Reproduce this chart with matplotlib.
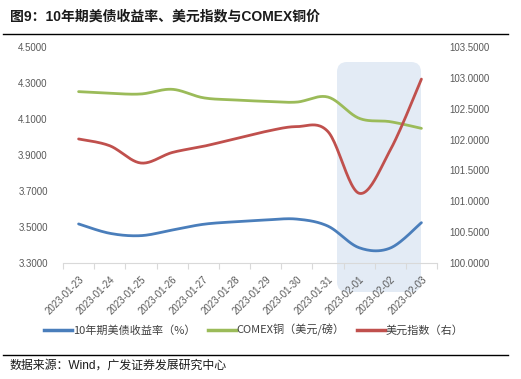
import numpy as np
import matplotlib
matplotlib.use("Agg")
import matplotlib.pyplot as plt
from matplotlib.patches import FancyBboxPatch
from matplotlib.transforms import IdentityTransform
from matplotlib.lines import Line2D

plt.rcParams['font.family'] = ['Liberation Sans', 'Noto Sans CJK SC', 'DejaVu Sans']

dates = ["2023-01-23", "2023-01-24", "2023-01-25", "2023-01-26", "2023-01-27", "2023-01-28",
         "2023-01-29", "2023-01-30", "2023-01-31", "2023-02-01", "2023-02-02", "2023-02-03"]
yield_10y = [3.517, 3.465, 3.452, 3.483, 3.515, 3.529, 3.539, 3.544, 3.505, 3.385, 3.383, 3.524]
copper = [4.252, 4.243, 4.239, 4.265, 4.218, 4.206, 4.198, 4.194, 4.222, 4.104, 4.085, 4.048]
usd_index = [102.01, 101.90, 101.62, 101.79, 101.89, 102.01, 102.13, 102.21, 102.13, 101.13, 101.83, 102.98]

left_ticks = [3.3, 3.5, 3.7, 3.9, 4.1, 4.3, 4.5]
right_ticks = [100.0, 100.5, 101.0, 101.5, 102.0, 102.5, 103.0, 103.5]

title = "图9：10年期美债收益率、美元指数与COMEX铜价"
source = "数据来源：Wind，广发证券发展研究中心"
labels = ["10年期美债收益率（%）", "COMEX铜（美元/磅）", "美元指数（右）"]
colors = ["#4a7ebb", "#9bbb59", "#c0504d"]


def smooth(y, n=24):
    y = np.asarray(y, float)
    x = np.arange(len(y), dtype=float)
    P = np.vstack([x, y]).T
    P = np.vstack([P[0], P, P[-1]])
    out = []
    for i in range(1, len(P) - 2):
        p0, p1, p2, p3 = P[i - 1], P[i], P[i + 1], P[i + 2]
        t = np.linspace(0, 1, n, endpoint=False)[:, None]
        c = 0.5 * ((2 * p1) + (-p0 + p2) * t + (2 * p0 - 5 * p1 + 4 * p2 - p3) * t ** 2
                   + (-p0 + 3 * p1 - 3 * p2 + p3) * t ** 3)
        out.append(c)
    out.append(P[-2][None, :])
    out = np.vstack(out)
    return out[:, 0], out[:, 1]


W, H = 521, 379
fig = plt.figure(figsize=(W / 100, H / 100), dpi=100)
ax = fig.add_axes([63 / W, 1 - 263 / H, (437 - 63) / W, (263 - 47) / H])
ax2 = ax.twinx()
ax.patch.set_visible(False)
ax2.patch.set_visible(False)

# shaded region (pixel coords)
shade = FancyBboxPatch((337, H - 292), 84, 230, boxstyle="round,pad=0,rounding_size=10",
                       transform=IdentityTransform(), facecolor="#e3ebf5", edgecolor="none", zorder=-5)
fig.patches.append(shade)

x = np.arange(len(dates))
lw = 2.0
xs, ys = smooth(yield_10y)
ax.plot(xs, ys, color=colors[0], lw=lw, solid_capstyle='round')
xs, ys = smooth(copper)
ax.plot(xs, ys, color=colors[1], lw=lw, solid_capstyle='round')
xs, ys = smooth(usd_index)
ax2.plot(xs, ys, color=colors[2], lw=lw, solid_capstyle='round')

ax.set_xlim(-0.5, len(dates) - 0.5)
ax.set_ylim(3.3, 4.5)
ax2.set_ylim(100, 103.5)
ax.set_yticks(left_ticks)
ax.set_yticklabels([f"{v:.4f}" for v in left_ticks])
ax2.set_yticks(right_ticks)
ax2.set_yticklabels([f"{v:.4f}" for v in right_ticks])

for a in (ax, ax2):
    for s in a.spines.values():
        s.set_visible(False)
ax.spines['bottom'].set_visible(True)
ax.spines['bottom'].set_color('#d9d9d9')
ax.spines['bottom'].set_linewidth(0.8)

tc = '#595959'
ax.tick_params(axis='y', length=0, pad=11, labelsize=7, labelcolor=tc)
ax2.tick_params(axis='y', length=0, pad=9, labelsize=7, labelcolor=tc)

ax.set_xticks(x)
ax.set_xticklabels(dates, rotation=45, ha='right', va='top', rotation_mode='anchor', fontsize=7, color=tc)
ax.tick_params(axis='x', which='major', length=0, pad=8)
ax.set_xticks(np.arange(-0.5, len(dates)), minor=True)
ax.tick_params(axis='x', which='minor', length=4, color='#d9d9d9', width=0.8)

# title and lines
fig.text(10 / W, 1 - 16 / H, title, fontsize=10, fontweight='bold', color='#1a1a1a', va='center', ha='left')
fig.add_artist(Line2D([3 / W, 508 / W], [1 - 34 / H, 1 - 34 / H], color='black', lw=1.0))
fig.add_artist(Line2D([3 / W, 508 / W], [1 - 355 / H, 1 - 355 / H], color='black', lw=1.0))
fig.text(10 / W, 1 - 366 / H, source, fontsize=8.6, color='#1a1a1a', va='center', ha='left')

handles = [Line2D([], [], color=c, lw=2.5) for c in colors]
fig.legend(handles, labels, loc='center', bbox_to_anchor=(254 / W, 1 - 330 / H), ncol=3, frameon=False,
           handlelength=2.5, handletextpad=0.1, columnspacing=1.1, labelcolor='#404040',
           prop={'family': ['Noto Sans CJK SC', 'DejaVu Sans'], 'size': 8})

fig.savefig("out.png", dpi=100)
